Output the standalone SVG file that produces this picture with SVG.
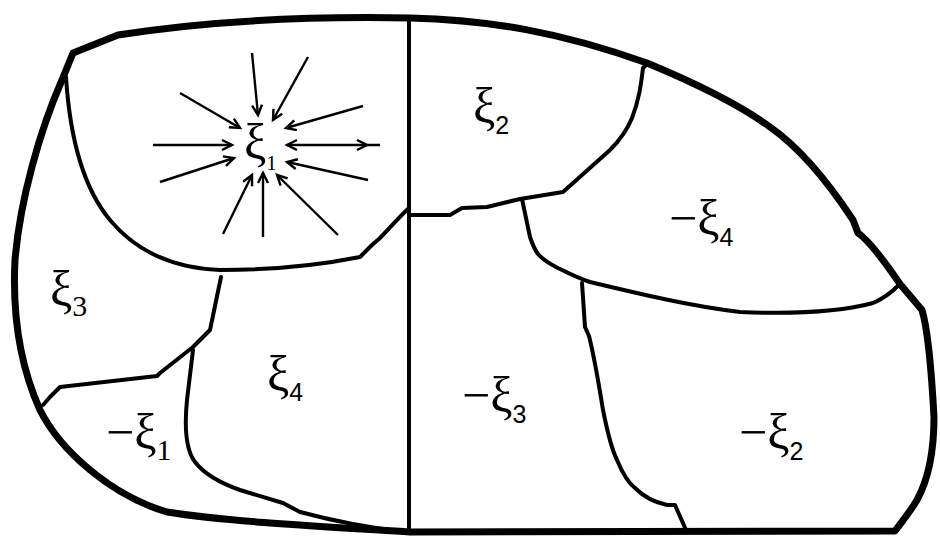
<svg xmlns="http://www.w3.org/2000/svg" width="940" height="546" viewBox="0 0 940 546">
<style>
.outer{fill:none;stroke:#000;stroke-width:7;stroke-linejoin:round;stroke-linecap:round}
.edge{fill:none;stroke:#000;stroke-width:4;stroke-linejoin:round;stroke-linecap:round}
.arr{fill:none;stroke:#000;stroke-width:2.4}
.lab{font-family:"Liberation Serif","Times New Roman",serif;font-size:50px;fill:#000}
.sub{font-size:30px}
.ss{font-family:"Liberation Sans",Arial,sans-serif;font-size:25px}
.sub1{font-size:21px}
</style>
<defs>
<marker id="ah" markerUnits="userSpaceOnUse" markerWidth="14" markerHeight="14" refX="11" refY="6" orient="auto-start-reverse">
<path d="M1,1 L11,6 L1,11" fill="none" stroke="#000" stroke-width="2.4"/>
</marker>
</defs>
<rect width="940" height="546" fill="#fff"/>
<g id="boundary">
<path class="outer" d="M 73,53 L 118,35 C 200,22 300,16 410,18 C 490,20 560,32 647,63 C 700,85 740,105 770,127 C 800,148 830,185 853,220 L 858,233 C 868,240 885,262 900,284 L 922,310 C 928,330 932,380 934,417 C 934,450 928,480 917,500 C 910,512 903,520 895,531 L 410,532 C 330,527 230,522 167,512 C 110,495 60,450 40,410 C 22,370 12,320 15,260 C 20,200 40,130 62,80 Z"/>
<path class="edge" d="M 409,18 L 409,532"/>
</g>
<g id="edges">
<path class="edge" d="M 66,77 C 70,140 85,190 110,220 C 135,250 170,268 220,270 C 280,270 330,263 360,257 L 372,245 L 380,238 C 390,228 400,216 409,208"/>
<path class="edge" d="M 409,215 L 450,215 L 462,208 L 487,207 L 520,199 L 563,192 L 610,150 C 620,140 628,128 632,118 C 639,100 641,85 643,68 L 648,63"/>
<path class="edge" d="M 522,199 L 530,237 C 533,246 535,250 538,254 C 545,262 552,265 560,269 C 570,274 578,278 590,282 C 640,294 690,306 740,312 C 790,314 840,312 873,303 C 885,298 893,291 900,284"/>
<path class="edge" d="M 582,283 L 585,327 L 589,336 C 595,360 599,385 603,410 C 608,435 612,450 617,460 C 622,472 627,482 635,488 C 643,496 653,502 667,505 L 675,505 L 686,530"/>
<path class="edge" d="M 221,277 L 210,330 L 193,347 L 160,373 L 157,376 L 60,387 L 50,397 L 43,405"/>
<path class="edge" d="M 193,350 L 187,400 C 184,430 186,450 195,462 C 205,475 220,483 240,490 L 283,503 L 300,512 C 330,520 370,528 405,532"/>
</g>
<g id="connectors">
<line class="arr" x1="252" y1="53" x2="258" y2="115" marker-end="url(#ah)"/>
<line class="arr" x1="308" y1="57" x2="273" y2="120" marker-end="url(#ah)"/>
<line class="arr" x1="180" y1="93" x2="240" y2="128" marker-end="url(#ah)"/>
<line class="arr" x1="363" y1="106" x2="286" y2="128" marker-end="url(#ah)"/>
<line class="arr" x1="153" y1="145" x2="232" y2="145" marker-end="url(#ah)"/>
<line class="arr" x1="380" y1="145" x2="287" y2="145" marker-end="url(#ah)"/>
<path class="arr" d="M 357,140 L 367,145 L 357,150"/>
<line class="arr" x1="160" y1="182" x2="234" y2="158" marker-end="url(#ah)"/>
<line class="arr" x1="368" y1="180" x2="287" y2="162" marker-end="url(#ah)"/>
<line class="arr" x1="223" y1="234" x2="252" y2="175" marker-end="url(#ah)"/>
<line class="arr" x1="263" y1="237" x2="263" y2="173" marker-end="url(#ah)"/>
<line class="arr" x1="338" y1="235" x2="277" y2="175" marker-end="url(#ah)"/>
</g>
<g id="labels">
<g id="xi1"><text class="lab" x="244" y="159">ξ<tspan class="sub1" dy="11">1</tspan></text></g>
<g id="xi2"><text class="lab" x="473" y="123">ξ<tspan class="ss" dy="11">2</tspan></text></g>
<g id="xi3"><text class="lab" x="50" y="306">ξ<tspan class="sub" dy="10">3</tspan></text></g>
<g id="xi4"><text class="lab" x="267" y="391">ξ<tspan class="ss" dy="10">4</tspan></text></g>
<g id="mxi1"><text class="lab" x="106" y="449">−ξ<tspan class="sub" dy="11">1</tspan></text></g>
<g id="mxi4"><text class="lab" x="669" y="235">−ξ<tspan class="ss" dy="11">4</tspan></text></g>
<g id="mxi3"><text class="lab" x="462" y="412">−ξ<tspan class="ss" dy="11">3</tspan></text></g>
<g id="mxi2"><text class="lab" x="739" y="449">−ξ<tspan class="ss" dy="11">2</tspan></text></g>
</g>
</svg>
